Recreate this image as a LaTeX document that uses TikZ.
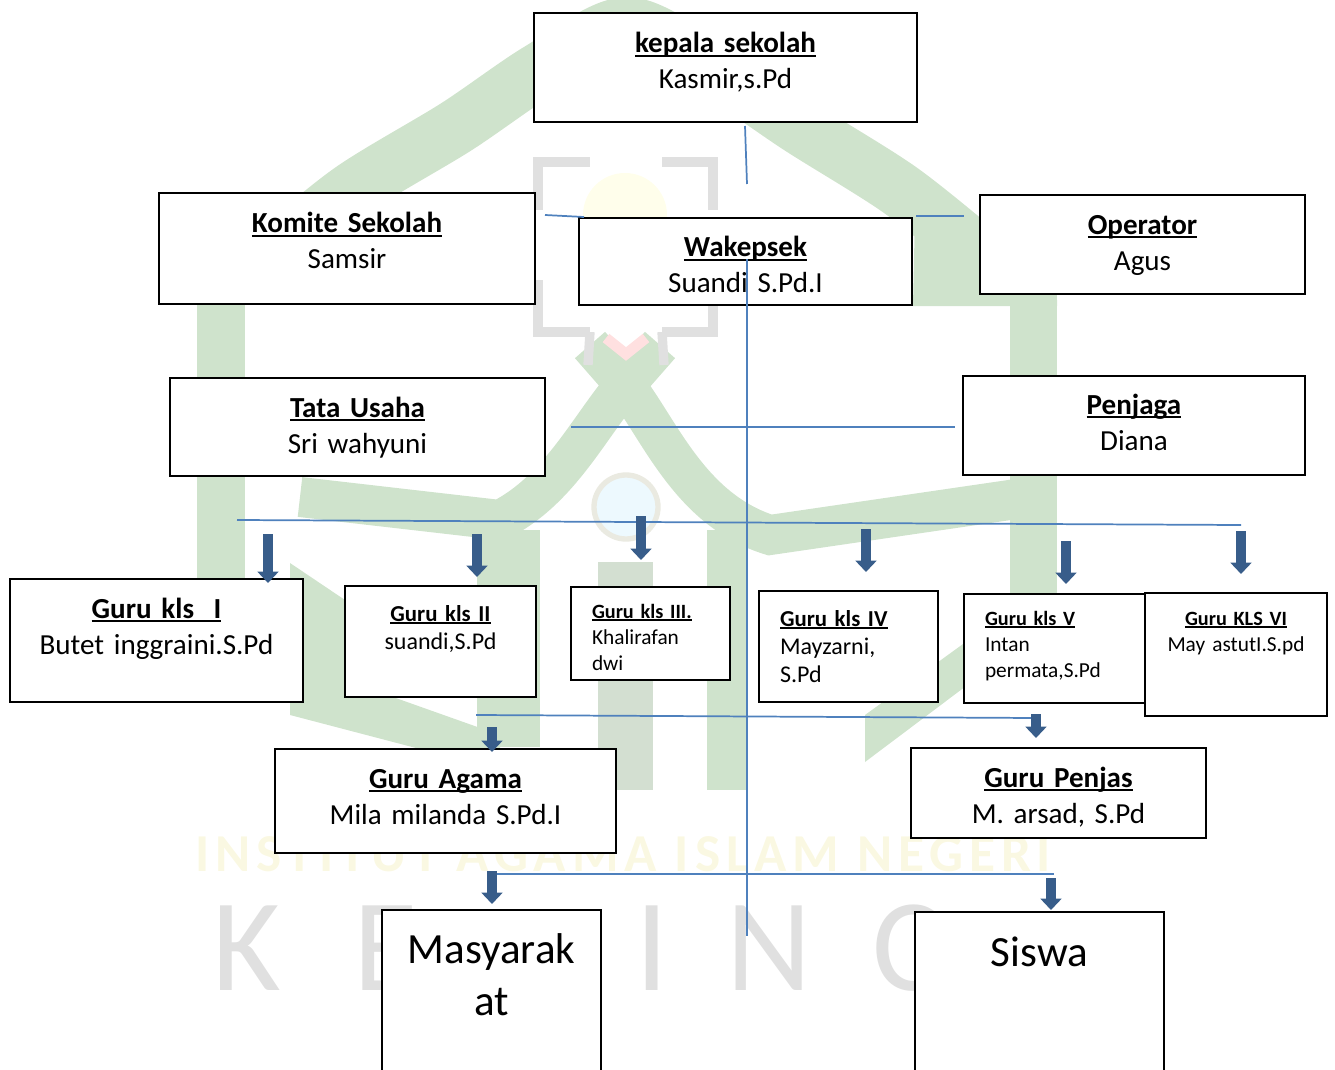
\documentclass[tikz,border=0pt]{standalone}
\usepackage{fontspec}
\setmainfont{Carlito}
\usepackage{tikz}
\usetikzlibrary{arrows.meta}
\newcommand{\judul}[1]{\textbf{\setbox0=\hbox{#1}\rlap{\rule[-0.14em]{\wd0}{0.075em}}\box0}}
\newcommand{\judulkecil}[1]{\scalebox{0.95}{\judul{#1}}}
\definecolor{wmgreen}{HTML}{CFE3CC}
\definecolor{wmbar}{HTML}{D3DFD1}
\definecolor{wmgray}{HTML}{E0E0E0}
\definecolor{wmyellow}{HTML}{FAF8E2}
\definecolor{linkblue}{HTML}{4F81BD}
\definecolor{arrowblue}{HTML}{385D8A}

\begin{document}
\begin{tikzpicture}[x=0.75pt,y=-0.75pt,
			box node/.style n args={3}{rectangle,draw=black,fill=white,line width=1.5pt,anchor=north west,
				outer sep=0pt,inner sep=0pt,align=center,text width=#1*0.75pt,
				text height=#3*0.75pt,text depth=(#2-#3)*0.75pt},
			padded/.style={align=left,inner xsep=15.75pt,text width=(#1-42)*0.75pt},
			big font/.style={font=\fontsize{21.8}{27}\selectfont},
			mid font/.style={font=\fontsize{18}{21.3}\selectfont},
			small font/.style={font=\fontsize{16}{19.5}\selectfont},
			huge font/.style={font=\fontsize{32.3}{39}\selectfont},
			link/.style={draw=linkblue,line width=1.3pt},
			down/.style={draw=arrowblue,line width=7.5pt,-{Triangle[width=15.5pt,length=8.5pt]}},
			mark band/.style={draw=wmgreen,line width=42pt},
			mark letter/.style={anchor=base west,inner sep=0pt,text=wmgray,font=\fontsize{99}{99}\selectfont}]
			
			\useasboundingbox (0,0) rectangle (1335,1070);
			
			% watermark
			\draw[mark band] plot[smooth] coordinates {(247,275) (268,258) (352,190) (456,127) (540,70) (627,25) (715,70) (800,127) (900,190) (985,258) (1005,275)};
			\fill[wmgreen] (197,300) rectangle (245,700);
			\fill[wmgreen] (1010,290) rectangle (1057,700);
			\fill[wmgreen] (915,213) -- (1010,245) -- (1057,300) -- (1057,306) -- (913,306) -- cycle;
			\draw[mark band,line width=30pt] (660,345) -- (625,385) .. controls (590,425) and (560,490) .. (500,520) -- (300,497);
			\draw[mark band,line width=30pt] (590,345) -- (625,385) .. controls (660,430) and (690,510) .. (770,535) -- (1030,497);
			\fill[white] (545,525) -- (690,525) -- (690,562) -- (545,562) -- cycle;
			\fill[wmgreen] (477,530) rectangle (540,747);
			\fill[wmgreen] (707,530) rectangle (748,790);
			\fill[wmbar] (598,562) rectangle (653,790);
			\fill[wmgreen] (290,563) -- (345,600) -- (345,680) -- (500,735) -- (500,770) -- (290,715) -- cycle;
			\fill[wmgreen] (865,715) -- (1010,610) -- (1010,653) -- (865,762) -- cycle;
			\draw[wmgray,line width=7pt] (590,162) -- (538,162) -- (538,210) (662,162) -- (713,162) -- (713,210);
			\draw[wmgray,line width=7pt] (538,280) -- (538,332) -- (590,332) (713,280) -- (713,332) -- (662,332);
			\draw[wmgray,line width=7pt] (590,332) -- (588,365) (662,332) -- (664,365);
			\draw[red!12,line width=8pt] (606,338) -- (626,354) -- (646,338);
			\fill[yellow!8] (625,215) circle (42);
			\draw[wmgray!60!wmyellow,line width=4pt,fill=cyan!7] (626,507) circle (32);
			\node[anchor=base west,inner sep=0pt,text=wmyellow,font=\bfseries\fontsize{40}{40}\selectfont\addfontfeature{LetterSpace=11}] (Institut) at (195,871) {INSTITUT AGAMA ISLAM NEGERI};
			\node[mark letter] (LetterK) at (212,990) {K};
			\node[mark letter] (LetterE) at (353,990) {E};
			\node[mark letter] (LetterI) at (635,990) {I};
			\node[mark letter] (LetterN) at (726,990) {N};
			\node[mark letter] (LetterC) at (872,990) {C};
			
			% boxes
			\node[box node={383}{109}{40},big font] (Kepala) at (534,13) {\judul{kepala sekolah}\\Kasmir,s.Pd};
			\node[box node={376}{111}{40},big font] (Komite) at (159,193) {\judul{Komite Sekolah}\\Samsir};
			\node[box node={333}{87}{39},big font] (Wakepsek) at (579,218) {\judul{Wakepsek}\\Suandi S.Pd.I};
			\node[box node={325}{99}{39},big font] (Operator) at (980,195) {\judul{Operator}\\Agus};
			\node[box node={375}{98}{39},big font] (Tata) at (170,378) {\judul{Tata Usaha}\\Sri wahyuni};
			\node[box node={342}{99}{38},big font] (Penjaga) at (963,376) {\judul{Penjaga}\\Diana};
			
			\node[box node={293}{123}{39},big font] (KlsI) at (10,579) {\judul{Guru kls~~I}\\Butet inggraini.S.Pd};
			\node[box node={191}{111}{35},mid font] (KlsII) at (345,586) {\judulkecil{Guru kls II}\\suandi,S.Pd};
			\node[box node={159}{93}{31},small font,padded=159] (KlsIII) at (571,587) {\judulkecil{Guru kls III.}\\Khalirafan\\dwi};
			\node[box node={179}{111}{35},mid font,padded=179] (KlsIV) at (759,591) {\judulkecil{Guru kls IV}\\Mayzarni,\\S.Pd};
			\node[box node={182}{109}{31},small font,padded=182] (KlsV) at (964,594) {\judulkecil{Guru kls V}\\Intan\\permata,S.Pd};
			\node[box node={182}{123}{32},small font] (KlsVI) at (1145,593) {\judulkecil{Guru KLS VI}\\May astutI.S.pd};
			
			\node[box node={341}{104}{39},big font] (Agama) at (275,749) {\judul{Guru Agama}\\Mila milanda S.Pd.I};
			\node[box node={295}{90}{39},big font] (Penjas) at (911,748) {\judul{Guru Penjas}\\M. arsad, S.Pd};
			\node[box node={219}{170}{53},huge font] (Masyarakat) at (382,910) {Masyarak\\at};
			\node[box node={249}{170}{54},huge font] (Siswa) at (915,912) {Siswa};
			
			% free ends of the lines
			\coordinate (KepalaEnd) at (745,126);
			\coordinate (WakilEnd) at (747,184);
			\coordinate (KomiteEnd) at (545,215);
			\coordinate (KomiteTip) at (584,217);
			\coordinate (OperatorEnd) at (916,216);
			\coordinate (OperatorTip) at (964,216);
			\coordinate (TrunkTop) at (747,259);
			\coordinate (TrunkEnd) at (747,936);
			\coordinate (TataEnd) at (571,427);
			\coordinate (PenjagaEnd) at (955,427);
			\coordinate (KelasLeft) at (237,520);
			\coordinate (KelasRight) at (1241,525);
			\coordinate (MapelLeft) at (476,715);
			\coordinate (MapelRight) at (1036,718);
			\coordinate (LuarLeft) at (497,874);
			\coordinate (LuarRight) at (1054,874);
			
			\draw[link] (KepalaEnd) -- (WakilEnd);
			\draw[link] (KomiteEnd) -- (KomiteTip);
			\draw[link] (OperatorEnd) -- (OperatorTip);
			\draw[link] (TrunkTop) -- (TrunkEnd);
			\draw[link] (TataEnd) -- (PenjagaEnd);
			\draw[link] (KelasLeft) -- (KelasRight);
			\draw[link] (MapelLeft) -- (MapelRight);
			\draw[link] (LuarLeft) -- (LuarRight);
			
			\foreach \name/\x/\from/\to in {KlsI/268/534/583,KlsII/477/534/577,KlsIII/641/516/560,KlsIV/866/529/572,KlsV/1066/541/584,KlsVI/1241/531/574,Agama/492/727/752,Penjas/1036/714/738,Masyarakat/492/871/904,Siswa/1051/878/910}{
				\coordinate (\name From) at (\x,\from);
				\coordinate (\name To) at (\x,\to);
				\draw[down] (\name From) -- (\name To);
			}
			\end{tikzpicture}
\end{document}
